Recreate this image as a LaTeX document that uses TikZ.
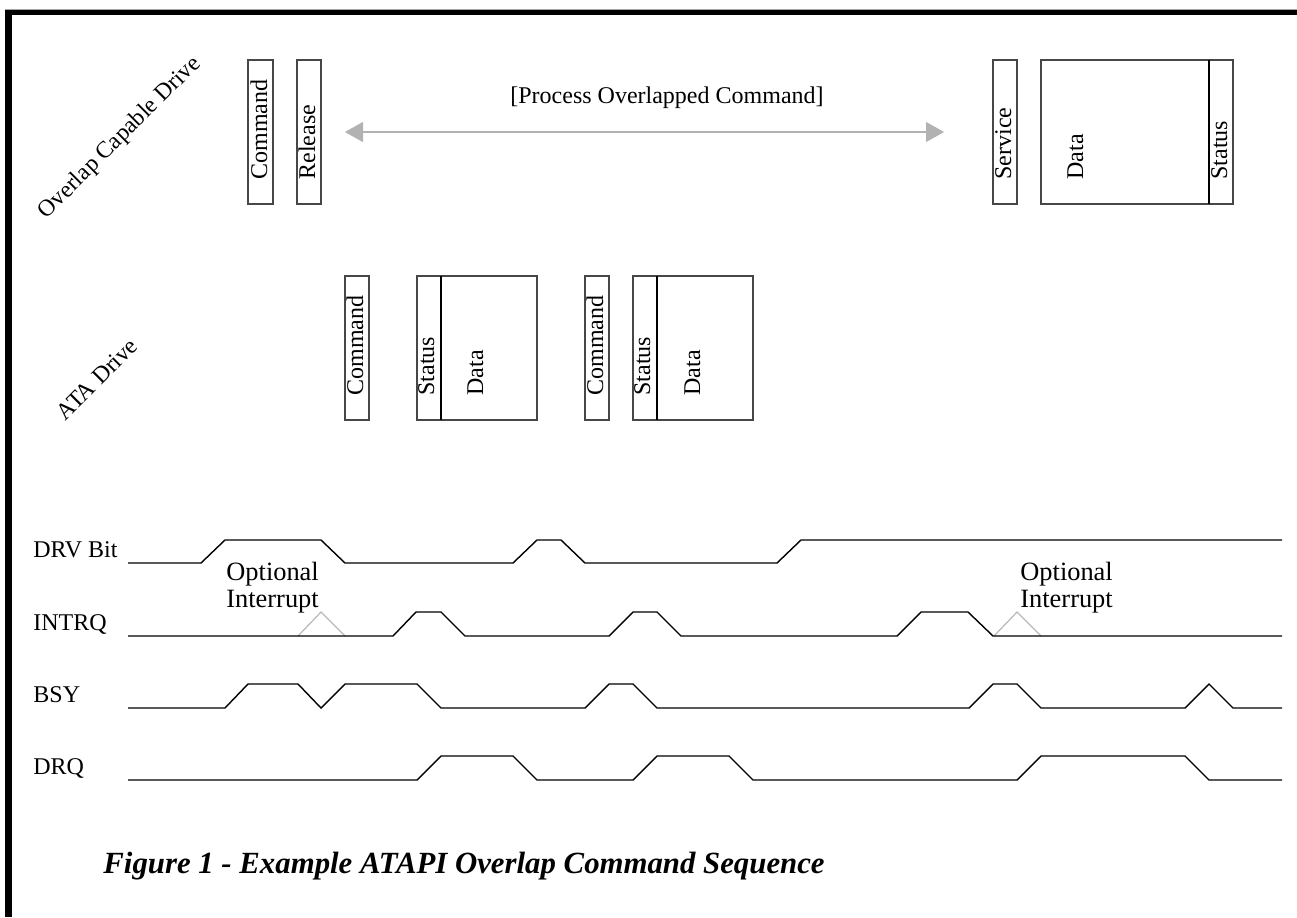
\documentclass[tikz,border=0pt]{standalone}
\usepackage{fontspec}
\setmainfont{Liberation Serif}
\usetikzlibrary{arrows.meta}
\begin{document}
\begin{tikzpicture}[x=0.5pt,y=-0.5pt,
  box/.style={draw=black!72, line width=0.7pt},
  divider/.style={draw=black, line width=0.8pt},
  boxlbl/.style={rotate=90, anchor=base west, inner sep=0pt, font=\fontsize{12}{13}\selectfont},
  drivelbl/.style={rotate=45, inner sep=0pt, font=\fontsize{11.8}{13}\selectfont},
  siglbl/.style={anchor=base west, inner sep=0pt, font=\fontsize{12}{13}\selectfont},
  sig/.style={draw=black, line width=0.7pt, line join=miter},
  optint/.style={draw=black!28, line width=0.6pt},
  optlbl/.style={anchor=base west, inner sep=0pt, align=left, font=\fontsize{13.2}{13.5}\selectfont},
  gray arrow/.style={draw=black!30, line width=0.6pt, {Triangle[length=9pt,width=10pt]}-{Triangle[length=9pt,width=10pt]}}
]
\useasboundingbox (0,0) rectangle (1297,917);
% frame
\draw[black!35, line width=0.5pt] (5,9) -- (1297,9);
\draw[black, line width=2.5pt] (5,12.5) -- (1297,12.5);
\draw[black, line width=3.4pt] (8.5,10) -- (8.5,917);

% drive labels
\node[drivelbl] (ocd) at (120,138) {Overlap Capable Drive};
\node[drivelbl] (ata) at (97,379) {ATA Drive};

% overlap drive boxes
\draw[box] (248,60) rectangle (273,204);
\node[boxlbl] (ocmd) at (267,180) {Command};
\draw[box] (297,60) rectangle (321,204);
\node[boxlbl] (orel) at (315,180) {Release};
\draw[box] (993,60) rectangle (1017,204);
\node[boxlbl] (oserv) at (1011,180) {Service};
\draw[box] (1041,60) rectangle (1233,204);
\draw[divider] (1209,60) -- (1209,204);
\node[boxlbl] (odata) at (1083,180) {Data};
\node[boxlbl] (ostat) at (1227,180) {Status};

% process arrow
\coordinate (arrL) at (345,132);
\coordinate (arrR) at (944,132);
\draw[gray arrow] (arrL) -- (arrR);
\node[font=\fontsize{12}{13}\selectfont, inner sep=0pt] (proc) at (667,98) {[Process Overlapped Command]};

% ATA drive boxes
\draw[box] (345,276) rectangle (369,420);
\node[boxlbl] (acmd1) at (363,396) {Command};
\draw[box] (417,276) rectangle (537,420);
\draw[divider] (441,276) -- (441,420);
\node[boxlbl] (astat1) at (434,396) {Status};
\node[boxlbl] (adata1) at (483,396) {Data};
\draw[box] (585,276) rectangle (609,420);
\node[boxlbl] (acmd2) at (603,396) {Command};
\draw[box] (633,276) rectangle (753,420);
\draw[divider] (657,276) -- (657,420);
\node[boxlbl] (astat2) at (650,396) {Status};
\node[boxlbl] (adata2) at (700,396) {Data};

% signal labels
\node[siglbl] (ldrv) at (33,557) {DRV Bit};
\node[siglbl] (lintrq) at (33,630) {INTRQ};
\node[siglbl] (lbsy) at (33,702) {BSY};
\node[siglbl] (ldrq) at (33,774) {DRQ};

% optional interrupt
\draw[optint] (298,636) -- (321,612) -- (345,636);
\draw[optint] (994,636) -- (1017,612) -- (1041,636);
\node[optlbl] (opt1) at (226,607) {Optional\\Interrupt};
\node[optlbl] (opt2) at (1020,607) {Optional\\Interrupt};

% waveforms
\draw[sig] (128,563) -- (201,563) -- (225,540) -- (321,540) -- (345,563) -- (513,563) -- (537,540) -- (561,540) -- (585,563) -- (777,563) -- (801,540) -- (1282,540);
\draw[sig] (128,636) -- (393,636) -- (416,612) -- (441,612) -- (465,636) -- (609,636) -- (633,612) -- (657,612) -- (681,636) -- (897,636) -- (921,612) -- (968,612) -- (993,636) -- (1282,636);
\draw[sig] (128,708) -- (225,708) -- (248,684) -- (298,684) -- (321,708) -- (345,684) -- (417,684) -- (441,708) -- (585,708) -- (609,684) -- (633,684) -- (657,708) -- (969,708) -- (993,684) -- (1017,684) -- (1041,708) -- (1185,708) -- (1209,684) -- (1233,708) -- (1282,708);
\draw[sig] (128,780) -- (417,780) -- (441,756) -- (513,756) -- (537,780) -- (633,780) -- (657,756) -- (729,756) -- (753,780) -- (1017,780) -- (1041,756) -- (1185,756) -- (1209,780) -- (1282,780);

% caption
\node[anchor=base west, inner sep=0pt, font=\fontsize{15.4}{17}\selectfont\bfseries\itshape] (cap) at (103,873) {Figure 1 - Example ATAPI Overlap Command Sequence};
\end{tikzpicture}
\end{document}
